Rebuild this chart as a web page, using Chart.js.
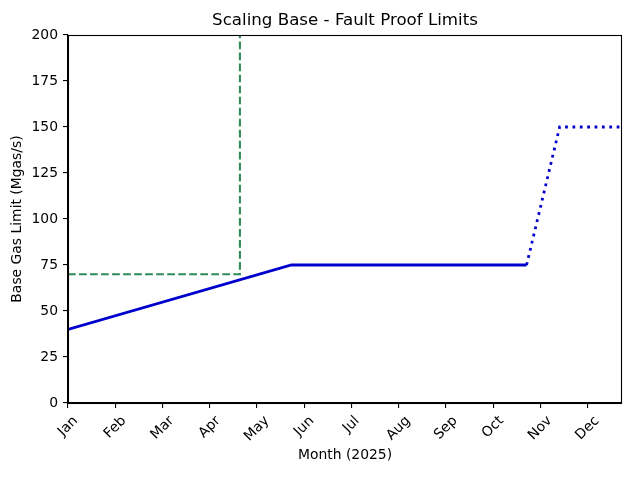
<!DOCTYPE html>
<html>
<head>
<meta charset="utf-8">
<script src="https://cdn.jsdelivr.net/npm/chart.js@4"></script>
<style>
  html, body { margin: 0; padding: 0; background: #fff; }
  #wrap { width: 634px; height: 477px; }
</style>
</head>
<body>
<div id="wrap"><canvas id="chart" width="634" height="477"></canvas></div>
<script>
// month index on the x axis (0 = Jan)
const monthLabels = ['Jan', 'Feb', 'Mar', 'Apr', 'May', 'Jun', 'Jul', 'Aug', 'Sep', 'Oct', 'Nov', 'Dec'];
const yTicks = [0, 25, 50, 75, 100, 125, 150, 175, 200];

// ramp to 75 Mgas/s then flat
const rampX = [0, 4.73, 9.71];
const rampY = [40, 75, 75];

// planned step up (dotted)
const plannedX = [9.71, 10.41, 11.73];
const plannedY = [75, 150, 150];

// fault proof limit (dashed)
const faultProofX = [0, 3.64, 3.64];
const faultProofY = [70, 70, 200];

const xMax = 11.73;

const toPoints = (xs, ys) => xs.map((x, i) => ({ x: x, y: ys[i] }));

const FONT = 'DejaVu Sans';
const TICK_SIZE = 13.9;
const LW = 2.78; // 2pt at 100 dpi
const GLW = 2.08; // 1.5pt

// box around plot area, like matplotlib spines
const framePlugin = {
  id: 'frame',
  afterDraw(chart) {
    const { ctx, chartArea } = chart;
    ctx.save();
    ctx.strokeStyle = '#000';
    ctx.lineWidth = 1.1;
    ctx.strokeRect(Math.round(chartArea.left) + 0.5, Math.round(chartArea.top) + 0.5,
      Math.round(chartArea.right - chartArea.left) - 1, Math.round(chartArea.bottom - chartArea.top));
    ctx.restore();
  }
};

// month labels rotated 45deg, bbox centred under the tick (matplotlib style)
const monthLabelPlugin = {
  id: 'monthLabels',
  afterDraw(chart) {
    const { ctx } = chart;
    const xs = chart.scales.x;
    const top = chart.chartArea.bottom + 5 + 5;
    const h = TICK_SIZE * 1.164;
    ctx.save();
    ctx.font = TICK_SIZE + 'px "' + FONT + '"';
    ctx.fillStyle = '#000';
    ctx.textAlign = 'center';
    ctx.textBaseline = 'middle';
    monthLabels.forEach((m, i) => {
      const w = ctx.measureText(m).width;
      const side = (w + h) * Math.SQRT1_2;
      const cx = xs.getPixelForValue(i);
      const cy = top + side / 2;
      ctx.save();
      ctx.translate(cx, cy);
      ctx.rotate(-Math.PI / 4);
      ctx.fillText(m, 0, 0);
      ctx.restore();
    });
    ctx.restore();
  }
};

const ctx = document.getElementById('chart').getContext('2d');
new Chart(ctx, {
  type: 'line',
  data: {
    datasets: [
      {
        label: 'Current',
        data: toPoints(rampX, rampY),
        borderColor: '#0000CD',
        borderWidth: LW,
        pointRadius: 0,
        tension: 0,
        fill: false
      },
      {
        label: 'Planned',
        data: toPoints(plannedX, plannedY),
        borderColor: '#0000CD',
        borderWidth: LW,
        borderDash: [LW, LW * 1.65],
        pointRadius: 0,
        tension: 0,
        fill: false
      },
      {
        label: 'Fault Proof',
        data: toPoints(faultProofX, faultProofY),
        borderColor: '#2E8B57',
        borderWidth: GLW,
        borderDash: [GLW * 3.7, GLW * 1.6],
        pointRadius: 0,
        tension: 0,
        fill: false
      }
    ]
  },
  options: {
    responsive: false,
    animation: false,
    layout: { padding: { left: 0, right: 12, top: 0, bottom: 0 } },
    plugins: {
      legend: { display: false },
      tooltip: { enabled: false },
      title: {
        display: true,
        fullSize: false,
        text: 'Scaling Base - Fault Proof Limits',
        color: '#000',
        font: { family: FONT, size: 16.67, weight: 'normal', lineHeight: 1.2 },
        padding: { top: 11, bottom: 4 }
      }
    },
    scales: {
      x: {
        type: 'linear',
        min: 0,
        max: xMax,
        afterFit(scale) { scale.height = 74; },
        afterBuildTicks(scale) { scale.ticks = monthLabels.map((m, i) => ({ value: i })); },
        grid: { display: true, drawOnChartArea: false, drawTicks: true, tickLength: 5, color: '#000', lineWidth: 1.1 },
        border: { display: true, color: '#000', width: 1.1 },
        ticks: { display: false },
        title: {
          display: true,
          text: 'Month (2025)',
          color: '#000',
          font: { family: FONT, size: TICK_SIZE, lineHeight: 1.2 },
          padding: { top: 0, bottom: 13 }
        }
      },
      y: {
        min: 0,
        max: 200,
        afterFit(scale) { scale.width = 68; },
        afterBuildTicks(scale) { scale.ticks = yTicks.map(v => ({ value: v })); },
        grid: { display: true, drawOnChartArea: false, drawTicks: true, tickLength: 5, color: '#000', lineWidth: 1.1 },
        border: { display: true, color: '#000', width: 1.1 },
        ticks: {
          padding: 5,
          color: '#000',
          font: { family: FONT, size: TICK_SIZE }
        },
        title: {
          display: true,
          text: 'Base Gas Limit (Mgas/s)',
          color: '#000',
          font: { family: FONT, size: TICK_SIZE, lineHeight: 1.2 },
          padding: { top: 9, bottom: 0 }
        }
      }
    }
  },
  plugins: [framePlugin, monthLabelPlugin]
});
</script>
</body>
</html>
